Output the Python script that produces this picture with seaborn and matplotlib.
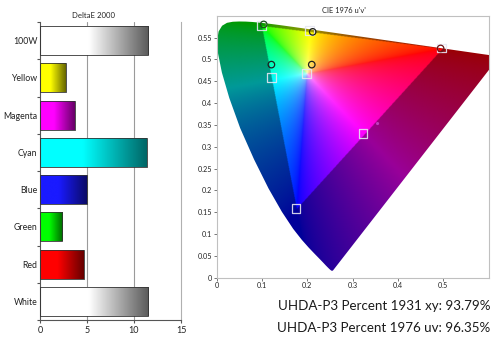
import numpy as np
import pandas as pd
import matplotlib
matplotlib.use("Agg")
import matplotlib.pyplot as plt
from matplotlib.patches import Polygon
import seaborn as sns

# ---- DeltaE 2000 per patch ----
patches = ["100W", "Yellow", "Magenta", "Cyan", "Blue", "Green", "Red", "White"]
delta_e = [11.5, 2.73, 3.72, 11.35, 5.0, 2.37, 4.68, 11.5]
patch_colors = ["#ffffff", "#ffff00", "#ff00ff", "#00ffff", "#1a1aff", "#00ff00", "#ff0000", "#ffffff"]

# ---- CIE 1931 2-degree spectral locus (x, y) ----
locus_x = [0.1741, 0.1740, 0.1738, 0.1736, 0.1733, 0.1730, 0.1726, 0.1721, 0.1714, 0.1703,
           0.1689, 0.1669, 0.1644, 0.1611, 0.1566, 0.1510, 0.1440, 0.1355, 0.1241, 0.1096,
           0.0913, 0.0687, 0.0454, 0.0235, 0.0082, 0.0039, 0.0139, 0.0389, 0.0743, 0.1142,
           0.1547, 0.1929, 0.2296, 0.2658, 0.3016, 0.3373, 0.3731, 0.4087, 0.4441, 0.4788,
           0.5125, 0.5448, 0.5752, 0.6029, 0.6270, 0.6482, 0.6658, 0.6915, 0.7079, 0.7190,
           0.7260, 0.7300, 0.7334, 0.7347]
locus_y = [0.0050, 0.0050, 0.0049, 0.0049, 0.0048, 0.0048, 0.0048, 0.0048, 0.0051, 0.0058,
           0.0069, 0.0086, 0.0109, 0.0138, 0.0177, 0.0227, 0.0297, 0.0399, 0.0578, 0.0868,
           0.1327, 0.2007, 0.2950, 0.4127, 0.5384, 0.6548, 0.7502, 0.8120, 0.8338, 0.8262,
           0.8059, 0.7816, 0.7543, 0.7243, 0.6923, 0.6589, 0.6245, 0.5896, 0.5547, 0.5202,
           0.4866, 0.4544, 0.4242, 0.3965, 0.3725, 0.3514, 0.3340, 0.3083, 0.2920, 0.2809,
           0.2740, 0.2700, 0.2666, 0.2653]

# ---- target (square) and measured (circle) chromaticities, u'v' ----
target_u = [0.099, 0.205, 0.121, 0.198, 0.323, 0.496, 0.175]
target_v = [0.578, 0.566, 0.458, 0.468, 0.330, 0.526, 0.158]
meas_label = ["Green", "Yellow", "Cyan", "White", "Red"]
meas_u = [0.104, 0.212, 0.121, 0.210, 0.494]
meas_v = [0.580, 0.563, 0.488, 0.488, 0.525]
meas_edge = ["#1d4f1d", "#202020", "#202020", "#202020", "#6a1515"]
magenta_u = [0.355]
magenta_v = [0.353]

percent_xy = 93.79
percent_uv = 96.35

# ---- P3-D65 XYZ -> linear RGB ----
M_P3 = np.array([[2.4934969, -0.9313836, -0.4027108],
                 [-0.8294890, 1.7626641, 0.0236247],
                 [0.0358458, -0.0761724, 0.9568845]])

sns.set_style("white")
plt.rcParams["font.family"] = ["Lato", "DejaVu Sans"]

W, H = 501, 339
fig = plt.figure(figsize=(W / 100, H / 100), dpi=100)
ax1 = fig.add_axes([40 / W, 1 - 320 / H, 141 / W, 298 / H])
ax2 = fig.add_axes([216.5 / W, 1 - 277.7 / H, 272.2 / W, 262 / H])

# ---------------- left: DeltaE bars ----------------
df = pd.DataFrame({"patch": patches, "de": delta_e})
sns.barplot(data=df, x="de", y="patch", orient="h", ax=ax1, width=0.78,
            color="white", edgecolor="#333333", linewidth=0.6, saturation=1)

for bar, col in zip(ax1.patches, patch_colors):
    x0, y0 = bar.get_x(), bar.get_y()
    w, h = bar.get_width(), bar.get_height()
    base = np.array(matplotlib.colors.to_rgb(col))
    t = np.linspace(0, 1, 256)
    if col == "#ffffff":
        f = np.where(t < 0.45, 1.0, 1.0 - (t - 0.45) / 0.55 * 0.65)
    else:
        f = np.where(t < 0.40, 1.0, 1.0 - (t - 0.40) / 0.60 * 0.6)
    grad = (base[None, :] * f[:, None])[None, :, :]
    im = ax1.imshow(grad, extent=[x0, x0 + w, y0 + h, y0], aspect="auto",
                    interpolation="bilinear", zorder=2.5)
    im.set_clip_path(bar)
    bar.set_facecolor("none")
    bar.set_zorder(3)

ax1.set_xlim(0, 15)
ax1.set_ylim(len(patches) - 0.5, -0.5)
ax1.set_xticks([0, 5, 10, 15])
ax1.set_yticks(np.arange(len(patches)))
ax1.set_yticklabels(patches)
ax1.set_yticks(np.arange(len(patches) + 1) - 0.5, minor=True)
ax1.tick_params(axis="y", which="major", length=0, labelsize=6.3, pad=2, colors="#222222")
ax1.tick_params(axis="y", which="minor", length=2.5, width=0.8, color="#555555", left=True)
ax1.tick_params(axis="x", length=2.5, width=0.8, color="#555555", labelsize=6.5,
                bottom=True, pad=1.5, labelcolor="#222222")
ax1.set_xlabel("")
ax1.set_ylabel("")
for xv in [5, 10]:
    ax1.axvline(xv, color="#9a9a9a", lw=0.8, zorder=1)
ax1.spines["top"].set_visible(False)
ax1.spines["left"].set_color("#555555")
ax1.spines["bottom"].set_color("#555555")
ax1.spines["right"].set_color("#b0b0b0")
for s in ax1.spines.values():
    s.set_linewidth(0.8)
fig.text(94 / W, 1 - 15.5 / H, "DeltaE 2000", ha="center", va="center", fontsize=5.6,
         color="#222222")

# ---------------- right: CIE 1976 u'v' diagram ----------------
lx = np.array(locus_x)
ly = np.array(locus_y)
den = -2 * lx + 12 * ly + 3
lu = 4 * lx / den
lv = 9 * ly / den

n = 600
ug, vg = np.meshgrid(np.linspace(0, 0.6, n), np.linspace(0, 0.6, n))
d = 6 * ug - 16 * vg + 12
xg = 9 * ug / d
yg = np.maximum(4 * vg / d, 1e-6)
XYZ = np.stack([xg / yg, np.ones_like(xg), (1 - xg - yg) / yg], axis=-1)
lin = XYZ @ M_P3.T
inside = np.all(lin >= 0, axis=-1)
lin = np.clip(lin, 0, None)
lin = lin / np.maximum(lin.max(axis=-1, keepdims=True), 1e-9)
# split into a fully saturated hue and a saturation amount, then boost saturation
mn = lin.min(axis=-1, keepdims=True)
sat = 1 - mn
pure = (lin - mn) / np.maximum(sat, 1e-9)
pure = pure ** (1 / 1.6)
sat_b = sat ** 0.4
rgb = 1 - sat_b * (1 - pure)
rgb[~inside] *= 0.6
rgb = np.clip(rgb, 0, 1)

outline = Polygon(np.column_stack([lu, lv]), closed=True, facecolor="none",
                  edgecolor="none", transform=ax2.transData)
ax2.add_patch(outline)
img = ax2.imshow(rgb, extent=[0, 0.6, 0, 0.6], origin="lower", aspect="auto",
                 interpolation="bilinear", zorder=1)
img.set_clip_path(outline)

tgt = pd.DataFrame({"u": target_u, "v": target_v})
sns.scatterplot(data=tgt, x="u", y="v", ax=ax2, marker="s", s=38,
                facecolor="none", edgecolor="#e6e6f2", linewidth=0.9, alpha=0.9, zorder=4)
meas = pd.DataFrame({"u": meas_u, "v": meas_v, "patch": meas_label})
sns.scatterplot(data=meas, x="u", y="v", ax=ax2, marker="o", s=22,
                facecolor="none", edgecolor=meas_edge, linewidth=0.9, zorder=5)
mag = pd.DataFrame({"u": magenta_u, "v": magenta_v})
sns.scatterplot(data=mag, x="u", y="v", ax=ax2, marker="o", s=5,
                color="#c040c0", edgecolor="none", zorder=5)

ax2.set_xlim(0, 0.6)
ax2.set_ylim(0, 0.6)
ax2.set_xticks(np.arange(0, 0.51, 0.1))
ax2.set_xticklabels(["0", "0.1", "0.2", "0.3", "0.4", "0.5"])
yt = np.arange(0, 0.551, 0.05)
ax2.set_yticks(yt)
ax2.set_yticklabels(["%g" % round(v, 2) for v in yt])
ax2.tick_params(axis="both", length=2, width=0.7, color="#777777", labelsize=5.2,
                pad=1.2, labelcolor="#222222", left=True, bottom=True)
ax2.set_xlabel("")
ax2.set_ylabel("")
for s in ax2.spines.values():
    s.set_color("#c0c0c0")
    s.set_linewidth(0.8)
fig.text(344 / W, 1 - 10.5 / H, "CIE 1976 u'v'", ha="center", va="center", fontsize=5.4,
         color="#222222")

fig.text(490 / W, 1 - 305.5 / H, f"UHDA-P3 Percent 1931 xy: {percent_xy:.2f}%",
         ha="right", va="center", fontsize=9.6, color="#1a1a1a")
fig.text(490 / W, 1 - 327.5 / H, f"UHDA-P3 Percent 1976 uv: {percent_uv:.2f}%",
         ha="right", va="center", fontsize=9.6, color="#1a1a1a")

fig.savefig("out.png", dpi=100)
